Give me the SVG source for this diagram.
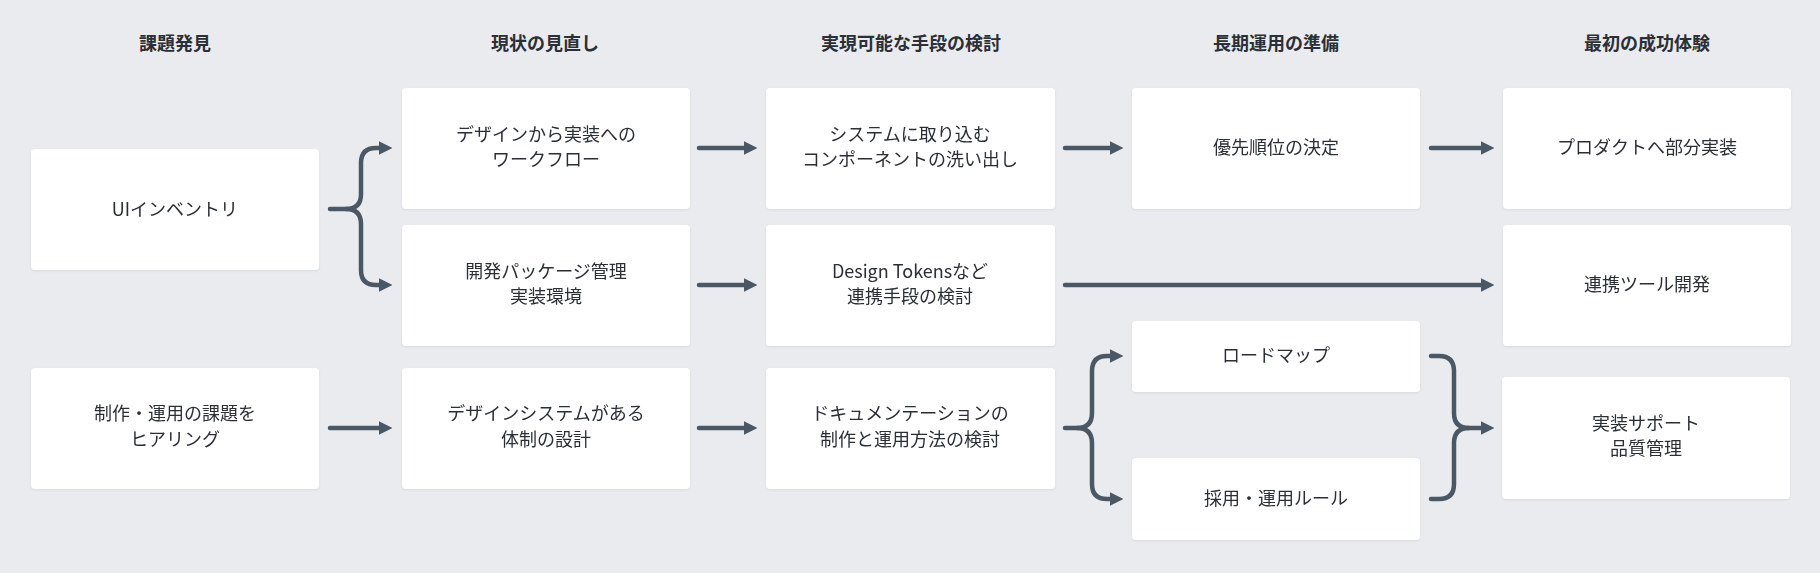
<svg xmlns="http://www.w3.org/2000/svg" width="1820" height="573" viewBox="0 0 1820 573">
<style>
.bx{fill:#fff;rx:4}
text{font-family:"Noto Sans CJK JP","Noto Sans",sans-serif;fill:#2b2f36;text-anchor:middle;font-size:18px}
.h{font-weight:bold;font-size:18px}
.c{fill:none;stroke:#4a5865;stroke-width:4.5;stroke-linecap:round;stroke-linejoin:round}
</style>
<defs>
<marker id="a" viewBox="0 0 10 10" refX="3" refY="5" markerWidth="3" markerHeight="3.4" orient="auto" markerUnits="strokeWidth"><path d="M0,0L10,5L0,10z" fill="#4a5865"/></marker>
<filter id="s" x="-5%" y="-5%" width="110%" height="115%"><feDropShadow dx="0" dy="1" stdDeviation="1" flood-color="#000" flood-opacity="0.08"/></filter>
</defs>
<rect width="1820" height="573" fill="#e9ebef"/>
<g id="headers">
<text class="h" x="175" y="50">課題発見</text>
<text class="h" x="545" y="50">現状の見直し</text>
<text class="h" x="911" y="50">実現可能な手段の検討</text>
<text class="h" x="1276" y="50">長期運用の準備</text>
<text class="h" x="1647" y="50">最初の成功体験</text>
</g>
<g filter="url(#s)">
<g id="n1"><rect class="bx" x="31" y="149" width="288" height="121"/><text x="175" y="216">UIインベントリ</text></g>
<g id="n2"><rect class="bx" x="31" y="368" width="288" height="121"/><text x="175" y="420">制作・運用の課題を</text><text x="175" y="446">ヒアリング</text></g>
<g id="n3"><rect class="bx" x="402" y="88" width="288" height="121"/><text x="546" y="141">デザインから実装への</text><text x="546" y="166">ワークフロー</text></g>
<g id="n4"><rect class="bx" x="402" y="225" width="288" height="121"/><text x="546" y="278">開発パッケージ管理</text><text x="546" y="303">実装環境</text></g>
<g id="n5"><rect class="bx" x="402" y="368" width="288" height="121"/><text x="546" y="420">デザインシステムがある</text><text x="546" y="446">体制の設計</text></g>
<g id="n6"><rect class="bx" x="766" y="88" width="289" height="121"/><text x="910" y="141">システムに取り込む</text><text x="910" y="166">コンポーネントの洗い出し</text></g>
<g id="n7"><rect class="bx" x="766" y="225" width="289" height="121"/><text x="910" y="278">Design Tokensなど</text><text x="910" y="303">連携手段の検討</text></g>
<g id="n8"><rect class="bx" x="766" y="368" width="289" height="121"/><text x="910" y="420">ドキュメンテーションの</text><text x="910" y="446">制作と運用方法の検討</text></g>
<g id="n9"><rect class="bx" x="1132" y="88" width="288" height="121"/><text x="1276" y="154">優先順位の決定</text></g>
<g id="n10"><rect class="bx" x="1132" y="321" width="288" height="71"/><text x="1276" y="362">ロードマップ</text></g>
<g id="n11"><rect class="bx" x="1132" y="458" width="288" height="82"/><text x="1276" y="505">採用・運用ルール</text></g>
<g id="n12"><rect class="bx" x="1503" y="88" width="288" height="121"/><text x="1647" y="154">プロダクトへ部分実装</text></g>
<g id="n13"><rect class="bx" x="1503" y="225" width="288" height="121"/><text x="1647" y="291">連携ツール開発</text></g>
<g id="n14"><rect class="bx" x="1502" y="377" width="288" height="122"/><text x="1646" y="430">実装サポート</text><text x="1646" y="455">品質管理</text></g>
</g>
<g id="connectors" class="c">
<path class="c" d="M330,209H346Q361,209 361,194V163Q361,148 376,148H383" marker-end="url(#a)"/>
<path class="c" d="M346,209Q361,209 361,224V270Q361,285 376,285H383" marker-end="url(#a)"/>
<path class="c" d="M330,428H383" marker-end="url(#a)"/>
<path class="c" d="M699,148H748" marker-end="url(#a)"/>
<path class="c" d="M699,285H748" marker-end="url(#a)"/>
<path class="c" d="M699,428H748" marker-end="url(#a)"/>
<path class="c" d="M1065,148H1114" marker-end="url(#a)"/>
<path class="c" d="M1065,285H1485" marker-end="url(#a)"/>
<path class="c" d="M1065,428H1077Q1092,428 1092,413V371Q1092,356 1107,356H1114" marker-end="url(#a)"/>
<path class="c" d="M1077,428Q1092,428 1092,443V484Q1092,499 1107,499H1114" marker-end="url(#a)"/>
<path class="c" d="M1431,148H1485" marker-end="url(#a)"/>
<path class="c" d="M1431,356H1439Q1454,356 1454,371V413Q1454,428 1469,428H1485" marker-end="url(#a)"/>
<path class="c" d="M1431,499H1439Q1454,499 1454,484V443Q1454,428 1469,428"/>
</g>
</svg>
